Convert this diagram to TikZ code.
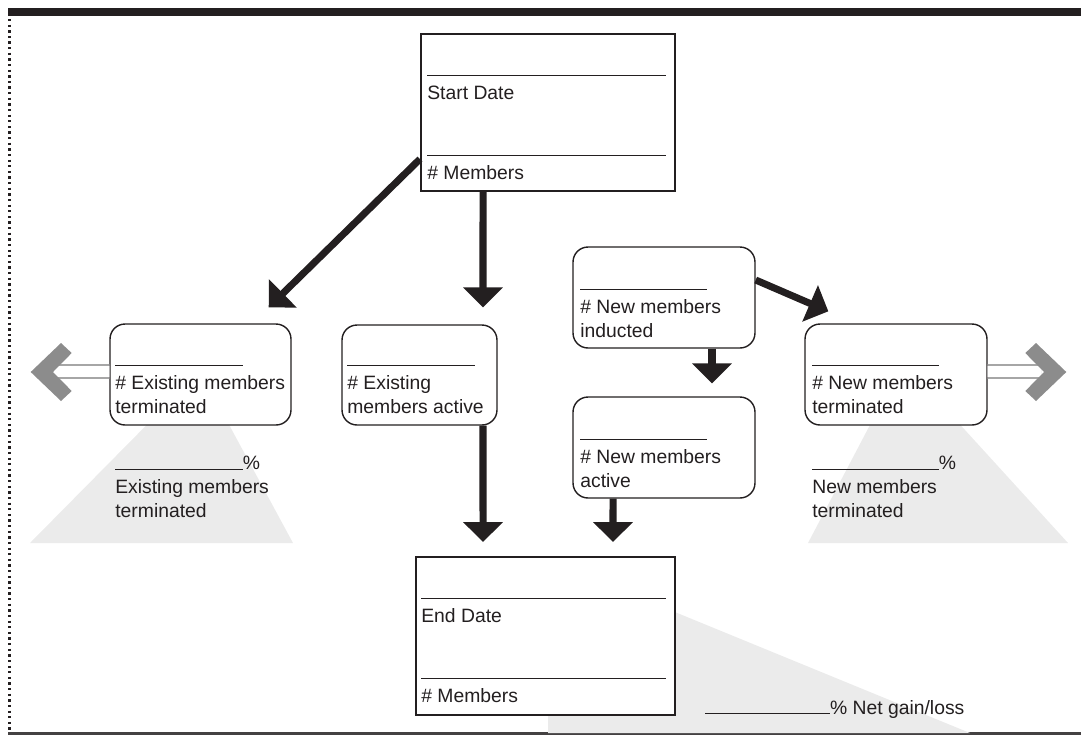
\documentclass[tikz,border=0pt]{standalone}
\usepackage{fontspec}
\setmainfont{Liberation Sans}
\usetikzlibrary{arrows.meta}

\definecolor{ink}{HTML}{231F20}
\definecolor{fangrey}{HTML}{EBEBEB}
\definecolor{chevgrey}{HTML}{8C8C8C}
\definecolor{railgrey}{HTML}{A6A6A6}

\tikzset{
  datebox/.style={draw=ink, line width=1.2pt, fill=white, inner sep=0pt},
  countbox/.style={draw=ink, line width=0.8pt, fill=white, rounded corners=0.3cm,
    minimum width=3.64cm, minimum height=2.02cm, inner sep=0pt},
  formtext/.style={anchor=north west, inner sep=0pt, align=left, text=ink,
    font=\fontsize{11pt}{13.6pt}\selectfont},
  bigarrow/.style={draw=ink, line width=4pt, -{Triangle[length=11.3pt,width=22pt]}},
  rail/.style={draw=railgrey, line width=1.1pt, double=white, double distance=6.2pt},
}

\begin{document}
\begin{tikzpicture}[x=0.02cm, y=-0.02cm]
        \useasboundingbox (0,0) rectangle (1081,735);

        % Frame
        \fill [ink] (8,8) rectangle (1081,15.5);
        \draw [ink, line width=1.3pt, dash pattern=on 1.3pt off 1.9pt] (9.5,19) -- (9.5,733);
        \draw [ink!85, line width=1.2pt] (8,733.5) -- (1081,733.5);

        % Shaded fans
        \fill [fangrey] (200,371) -- (30,543) -- (293,543) -- cycle;
        \fill [fangrey] (903,362) -- (808,543) -- (1068,543) -- cycle;
        \fill [fangrey] (548,560) -- (970,733) -- (548,733) -- cycle;

        % Start and end boxes
        \node [datebox, minimum width=5.08cm, minimum height=3.14cm] (start) at (548,112.5) {};
        \node [formtext] (startdate) at (427,74.5) {\rule{136pt}{0.7pt}\\Start Date};
        \node [formtext] (startcount) at (427,154.5) {\rule{136pt}{0.7pt}\\\# Members};

        \node [datebox, minimum width=5.18cm, minimum height=3.16cm] (end) at (545.5,636) {};
        \node [formtext] (enddate) at (421,597.5) {\rule{139.5pt}{0.7pt}\\End Date};
        \node [formtext] (endcount) at (421,677.5) {\rule{139.5pt}{0.7pt}\\\# Members};

        % Count boxes
        \node [countbox, minimum width=3.62cm] (emt) at (200.5,374.5) {};
        \node [formtext] (emttext) at (115,364.5) {\rule{72.6pt}{0.7pt}\\\# Existing members\\terminated};

        \node [countbox, minimum width=3.1cm, minimum height=2cm] (ema) at (419.5,375) {};
        \node [formtext] (ematext) at (347,364.5) {\rule{72.6pt}{0.7pt}\\\# Existing\\members active};

        \node [countbox] (nmi) at (664,297.5) {};
        \node [formtext] (nmitext) at (580,288.5) {\rule{72pt}{0.7pt}\\\# New members\\inducted};

        \node [countbox] (nma) at (664,447.5) {};
        \node [formtext] (nmatext) at (580,438.5) {\rule{72pt}{0.7pt}\\\# New members\\active};

        \node [countbox] (nmt) at (896,374.5) {};
        \node [formtext] (nmttext) at (812,364.5) {\rule{72pt}{0.7pt}\\\# New members\\terminated};

        % Percent labels
        \node [formtext] (emtpct) at (115,456) {\rule{72.6pt}{0.7pt}\%\\Existing members\\terminated};
        \node [formtext] (nmtpct) at (812,456) {\rule{72pt}{0.7pt}\%\\New members\\terminated};
        \node [formtext, anchor=base west] (netpct) at (705,714) {\rule{71pt}{0.7pt}\% Net gain/loss};

        % Flow arrows
        \draw [bigarrow] ([yshift=0.66cm]start.south west) -- ([xshift=-0.46cm,yshift=0.32cm]emt.north east);
        \draw [bigarrow] ([xshift=-1.3cm]start.south) -- ([xshift=1.27cm,yshift=0.34cm]ema.north);
        \draw [bigarrow] ([xshift=1.27cm]ema.south) -- ([xshift=-1.25cm,yshift=0.28cm]end.north);
        \draw [bigarrow] ([xshift=-1.02cm]nma.south) -- ([xshift=1.35cm,yshift=0.28cm]end.north);
        \draw [bigarrow] ([xshift=0.96cm]nmi.south) -- ([xshift=0.96cm,yshift=0.26cm]nma.north);
        \draw [bigarrow] ([yshift=0.35cm]nmi.east) -- ([xshift=0.48cm,yshift=0.24cm]nmt.north west);

        % Exit arrows
        \coordinate (leftexit) at (56,371.5);
        \coordinate (rightexit) at (1041,371.5);
        \draw [rail] ([yshift=0.06cm]emt.west) -- (leftexit);
        \draw [rail] ([yshift=0.06cm]nmt.east) -- (rightexit);
        \fill [chevgrey] (30.7,372) -- (61,343) -- (71.7,353) -- (53,372) -- (71.7,391) -- (61,401) -- cycle;
        \fill [chevgrey] (1066.3,372) -- (1036,343) -- (1025.3,353) -- (1044,372) -- (1025.3,391) -- (1036,401) -- cycle;

    \end{tikzpicture}
\end{document}
